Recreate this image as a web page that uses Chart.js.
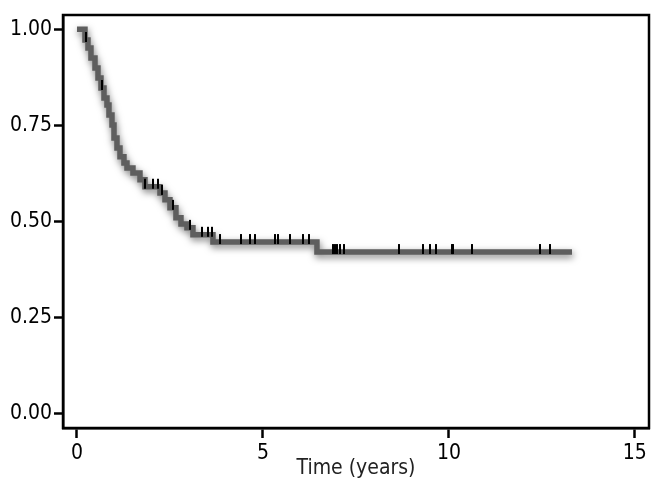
<!DOCTYPE html>
<html>
<head>
<meta charset="utf-8">
<script src="https://cdn.jsdelivr.net/npm/chart.js@4"></script>
<style>
    html, body { margin: 0; padding: 0; background: #fff; }
    #wrap { width: 655px; height: 500px; }
</style>
</head>
<body>
<div id="wrap"><canvas id="km"></canvas></div>
<script>
// Kaplan-Meier steps
const stepTimes = [0, 0.215, 0.296, 0.376, 0.484, 0.565, 0.645, 0.726, 0.806, 0.86, 0.941, 0.995,
    1.075, 1.156, 1.263, 1.344, 1.505, 1.694, 1.828, 2.231, 2.366, 2.5, 2.661, 2.796, 2.957,
    3.118, 3.656, 6.452, 13.31]
const stepSurv = [1.0, 0.972, 0.951, 0.925, 0.899, 0.873, 0.847, 0.821, 0.803, 0.777, 0.751, 0.717,
    0.691, 0.668, 0.652, 0.639, 0.626, 0.608, 0.59, 0.574, 0.556, 0.535, 0.509, 0.493, 0.483,
    0.465, 0.446, 0.42, 0.42]
const censorTimes = [0.24, 0.66, 1.83, 2.04, 2.18, 2.28, 2.58, 3.04, 3.36, 3.52, 3.63,
    3.84, 4.41, 4.65, 4.78, 5.32, 5.4, 5.73, 6.08, 6.24,
    6.88, 6.94, 6.99, 7.07, 7.18, 8.66, 9.3, 9.49, 9.65, 10.08, 10.11, 10.62, 12.45, 12.72]

const xTicks = [0, 5, 10, 15]
const yTicks = [0, 0.25, 0.5, 0.75, 1]
const xTitle = "Time (years)"

const FONT = '"Liberation Sans Narrow", "Arial Narrow", "DejaVu Sans Condensed", sans-serif'

function survAt(t) {
    let s = stepSurv[0]
    for (let i = 0; i < stepTimes.length; i++) {
        if (stepTimes[i] <= t) s = stepSurv[i]
    }
    return s
}

const curve = stepTimes.map((t, i) => ({ x: t, y: stepSurv[i] }))
const censors = censorTimes.map(t => ({ x: t, y: survAt(t) }))

// censor tick sitting mostly above the line (image is drawn centred on the point)
const tick = document.createElement("canvas")
tick.width = 2
tick.height = 22
const tctx = tick.getContext("2d")
tctx.fillStyle = "#000"
tctx.fillRect(0, 3, 2, 10)

// blurred shadow under the survival line
const shadowPlugin = {
    id: "shadow",
    beforeDatasetDraw(chart, args) {
        if (args.index !== 0) return
        const ctx = chart.ctx
        ctx.save()
        ctx.shadowColor = "rgba(0,0,0,0.5)"
        ctx.shadowBlur = 7
        ctx.shadowOffsetX = 1
        ctx.shadowOffsetY = 3
    },
    afterDatasetDraw(chart, args) {
        if (args.index !== 0) return
        chart.ctx.restore()
    }
}

// full frame round the plot
const framePlugin = {
    id: "frame",
    afterDraw(chart) {
        const { ctx, chartArea: a } = chart
        ctx.save()
        ctx.strokeStyle = "#000"
        ctx.lineWidth = 2.5
        ctx.strokeRect(a.left, a.top, a.right - a.left, a.bottom - a.top)
        ctx.restore()
    }
}

new Chart(document.getElementById("km"), {
    type: "line",
    data: {
        datasets: [
            {
                data: curve,
                stepped: "before",
                borderColor: "#5e5e5e",
                borderWidth: 5.5,
                pointRadius: 0,
                fill: false,
                order: 1
            },
            {
                type: "scatter",
                data: censors,
                pointStyle: tick,
                pointRadius: 5,
                order: 0
            }
        ]
    },
    options: {
        responsive: true,
        maintainAspectRatio: false,
        animation: false,
        layout: { padding: { top: 15, right: 6, left: 0, bottom: 0 } },
        plugins: {
            legend: { display: false },
            tooltip: { enabled: false }
        },
        scales: {
            x: {
                type: "linear",
                min: -0.376,
                max: 15.38,
                afterBuildTicks: s => { s.ticks = xTicks.map(v => ({ value: v })) },
                afterFit: s => { s.height = 72 },
                grid: { drawOnChartArea: false, tickLength: 10, tickWidth: 2.5, tickColor: "#000" },
                border: { display: true, color: "#000", width: 2.5 },
                ticks: { color: "#000", padding: 3, maxRotation: 0, font: { family: FONT, size: 21 } },
                title: {
                    display: true,
                    text: xTitle,
                    color: "#222",
                    font: { family: FONT, size: 21 },
                    padding: { top: 0, bottom: 19 }
                }
            },
            y: {
                type: "linear",
                min: -0.038,
                max: 1.037,
                afterBuildTicks: s => { s.ticks = yTicks.map(v => ({ value: v })) },
                afterFit: s => { s.width = 63 },
                grid: { drawOnChartArea: false, tickLength: 9, tickWidth: 2.5, tickColor: "#000" },
                border: { display: true, color: "#000", width: 2.5 },
                ticks: {
                    color: "#000",
                    padding: 2,
                    font: { family: FONT, size: 21 },
                    callback: v => v.toFixed(2)
                }
            }
        }
    },
    plugins: [shadowPlugin, framePlugin]
})
</script>
</body>
</html>
